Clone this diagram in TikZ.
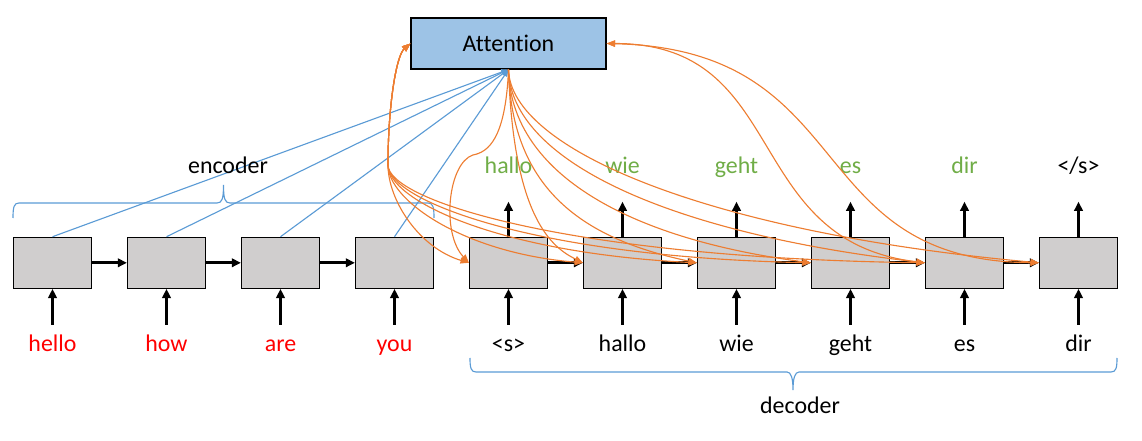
\documentclass[tikz,border=0pt]{standalone}
\usepackage{fontspec}
\setmainfont{Carlito}[Ligatures=NoCommon]
\usepackage{tikz}
\usetikzlibrary{arrows.meta}

\definecolor{attblue}{HTML}{9DC3E6}
\definecolor{cellgray}{HTML}{D0CECE}
\definecolor{ctxorange}{HTML}{ED7D31}
\definecolor{encblue}{HTML}{5B9BD5}
\definecolor{outgreen}{HTML}{70AD47}
\definecolor{inred}{HTML}{FF0000}

\begin{document}
\begin{tikzpicture}[x=0.025cm,y=0.025cm,
    cell/.style={draw,line width=0.8pt,fill=cellgray,minimum width=1.95cm,minimum height=1.275cm,inner sep=0pt},
    word/.style={font=\fontsize{17}{20}\selectfont,anchor=base,text height=12pt,text depth=4pt,inner ysep=7pt},
    flow/.style={line width=2.2pt,>={Triangle[length=6.5pt,width=6pt]},->},
    enc/.style={draw=encblue,line width=0.8pt,>={Triangle[length=5pt,width=4pt]},->},
    ctx/.style={draw=ctxorange,line width=0.8pt,>={Triangle[length=6pt,width=4.5pt]},->},
    ctxboth/.style={ctx,<->},
    curly/.style={draw=encblue,line width=0.8pt}]
    \useasboundingbox (0,0) rectangle (1142,440);

    % draw attention
    \node[draw,line width=0.8pt,fill=attblue,minimum width=4.875cm,minimum height=1.275cm,
        font=\fontsize{17}{20}\selectfont] (att) at (508.5,396.5) {Attention};

    % draw cells
    \node[cell] (e1) at (52.5,177.2) {};%hello
    \node[cell] (e2) at (166.5,177.2) {};%how
    \node[cell] (e3) at (280.5,177.2) {};%are
    \node[cell] (e4) at (394.5,177.2) {};%you
    \node[cell] (d1) at (508.5,177.2) {};%<s>
    \node[cell] (d2) at (622.5,177.2) {};%hallo
    \node[cell] (d3) at (736.5,177.2) {};%wie
    \node[cell] (d4) at (850.5,177.2) {};%geht
    \node[cell] (d5) at (964.5,177.2) {};%es
    \node[cell] (d6) at (1078.5,177.2) {};%dir

    % input words
    \node[word,text=inred] (x1) at (52.5,88) {hello};
    \node[word,text=inred] (x2) at (166.5,88) {how};
    \node[word,text=inred] (x3) at (280.5,88) {are};
    \node[word,text=inred] (x4) at (394.5,88) {you};
    \node[word] (y1) at (508.5,88) {<s>};
    \node[word] (y2) at (622.5,88) {hallo};
    \node[word] (y3) at (736.5,88) {wie};
    \node[word] (y4) at (850.5,88) {geht};
    \node[word] (y5) at (964.5,88) {es};
    \node[word] (y6) at (1078.5,88) {dir};

    % output words
    \node[word,text=outgreen] (o1) at (508.5,266) {hallo};
    \node[word,text=outgreen] (o2) at (622.5,266) {wie};
    \node[word,text=outgreen] (o3) at (736.5,266) {geht};
    \node[word,text=outgreen] (o4) at (850.5,266) {es};
    \node[word,text=outgreen] (o5) at (964.5,266) {dir};
    \node[word] (o6) at (1078.5,266) {</s>};

    % inputs into cells
    \draw[flow] (x1.north) -- (e1.south);
    \draw[flow] (x2.north) -- (e2.south);
    \draw[flow] (x3.north) -- (e3.south);
    \draw[flow] (x4.north) -- (e4.south);
    \draw[flow] (y1.north) -- (d1.south);
    \draw[flow] (y2.north) -- (d2.south);
    \draw[flow] (y3.north) -- (d3.south);
    \draw[flow] (y4.north) -- (d4.south);
    \draw[flow] (y5.north) -- (d5.south);
    \draw[flow] (y6.north) -- (d6.south);

    % cells to outputs
    \draw[flow,shorten >=8.5pt] (d1.north) -- (o1.south);
    \draw[flow,shorten >=8.5pt] (d2.north) -- (o2.south);
    \draw[flow,shorten >=8.5pt] (d3.north) -- (o3.south);
    \draw[flow,shorten >=8.5pt] (d4.north) -- (o4.south);
    \draw[flow,shorten >=8.5pt] (d5.north) -- (o5.south);
    \draw[flow,shorten >=8.5pt] (d6.north) -- (o6.south);

    % recurrent steps
    \draw[flow] (e1.east) -- (e2.west);
    \draw[flow] (e2.east) -- (e3.west);
    \draw[flow] (e3.east) -- (e4.west);
    \draw[flow] (d1.east) -- (d2.west);
    \draw[flow] (d2.east) -- (d3.west);
    \draw[flow] (d3.east) -- (d4.west);
    \draw[flow] (d4.east) -- (d5.west);
    \draw[flow] (d5.east) -- (d6.west);

    % encoder states to attention
    \draw[enc] (e1.north) -- (att.south);
    \draw[enc] (e2.north) -- (att.south);
    \draw[enc] (e3.north) -- (att.south);
    \draw[enc] (e4.north) -- (att.south);

    % braces
    \draw[curly] (13,222) .. controls (13,233) and (14,237) .. (19,237) -- (217,237)
        .. controls (222,237) and (223.5,241) .. (223.5,255)
        .. controls (223.5,241) and (225,237) .. (230,237) -- (428,237)
        .. controls (433,237) and (434,233) .. (434,222);
    \node[word] (enclab) at (228,266) {encoder};
    \draw[curly] (470,82) .. controls (470,72) and (471,68) .. (476,68) -- (787,68)
        .. controls (791,68) and (793,62) .. (793,50)
        .. controls (793,62) and (795,68) .. (799,68) -- (1111,68)
        .. controls (1116,68) and (1117,72) .. (1117,82);
    \node[word] (declab) at (800,27) {decoder};

    % context from attention
    \coordinate (sbend) at (473,285);
    \coordinate (p) at (388,275);
    \draw[ctx] (att.south) .. controls +(-3,-70) and +(15,3) .. (sbend)
        .. controls +(-25,-8) and +(-28,30) .. (d1.west);
    \draw[ctx] (att.south) .. controls +(5,-150) and +(-30,15) .. (d2.west);
    \draw[ctx] (att.south) .. controls +(3,-115) and +(-120,25) .. (d3.west);
    \draw[ctx] (att.south) .. controls +(2,-100) and +(-190,25) .. (d4.west);
    \draw[ctx] (att.south) .. controls +(2,-90) and +(-260,30) .. (d5.west);
    \draw[ctx] (att.south) .. controls +(2,-80) and +(-330,30) .. (d6.west);

    % decoder states and attention
    \draw[ctxboth] (att.west) .. controls +(-14,-12) and +(0,60) .. (p)
        .. controls +(0,-35) and +(-50,15) .. (d1.west);
    \draw[ctxboth] (att.west) .. controls +(-14,-12) and +(0,60) .. (p)
        .. controls +(0,-35) and +(-120,10) .. (d2.west);
    \draw[ctxboth] (att.west) .. controls +(-14,-12) and +(0,60) .. (p)
        .. controls +(0,-35) and +(-200,10) .. (d3.west);
    \draw[ctxboth] (att.west) .. controls +(-14,-12) and +(0,60) .. (p)
        .. controls +(0,-35) and +(-280,6) .. (d4.west);
    \draw[ctxboth] (att.west) .. controls +(-14,-12) and +(0,60) .. (p)
        .. controls +(0,-35) and +(-360,5) .. (d5.west);
    \draw[ctxboth] (att.east) .. controls +(185,0) and +(-185,22) .. (d5.west);
    \draw[ctxboth] (att.east) .. controls +(255,-6) and +(-240,2) .. (d6.west);
\end{tikzpicture}
\end{document}
